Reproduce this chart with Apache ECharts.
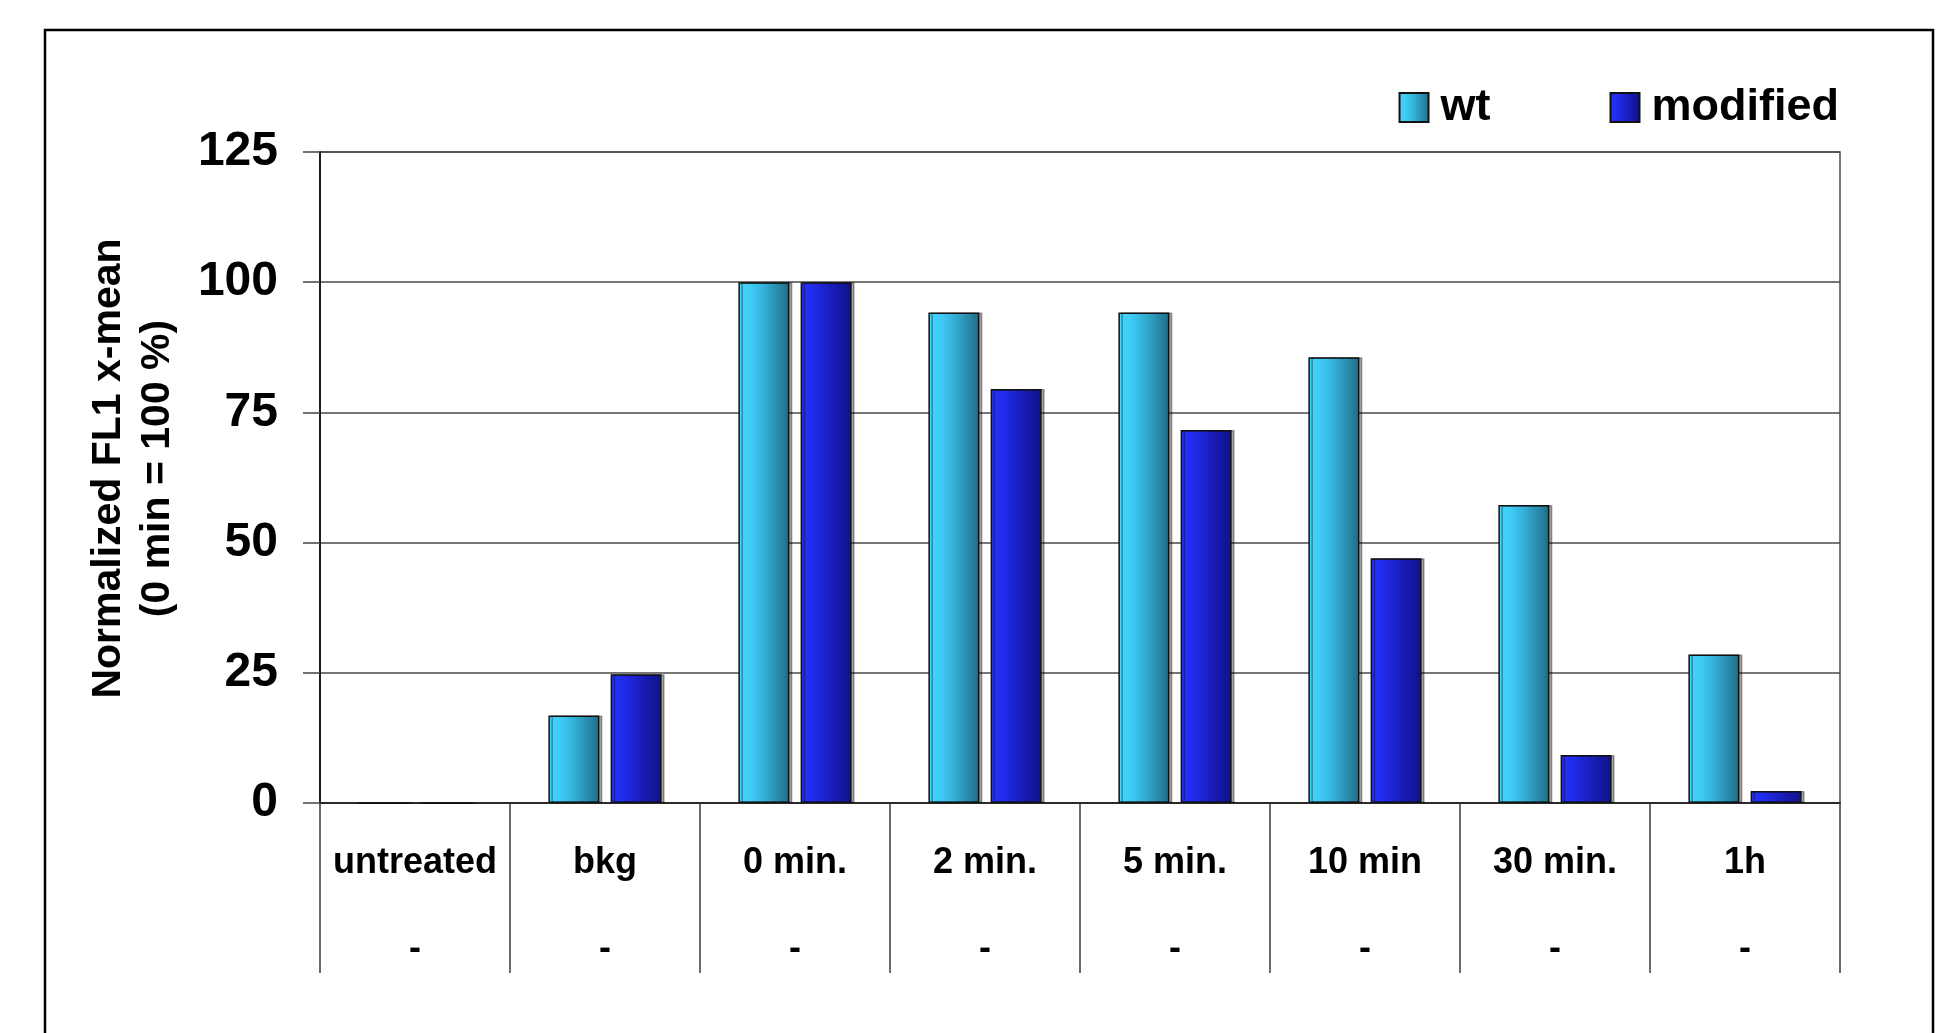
<!DOCTYPE html>
<html>
<head>
<meta charset="utf-8">
<title>Normalized FL1 x-mean</title>
<script src="https://cdn.jsdelivr.net/npm/echarts@6/dist/echarts.min.js"></script>
<style>
  html, body { margin: 0; padding: 0; background: #ffffff; }
  #chart { width: 1938px; height: 1033px; }
</style>
</head>
<body>
<div id="chart"></div>
<script>
// Time points (first row of the category table) and treatment row
const categories = ['untreated', 'bkg', '0 min.', '2 min.', '5 min.', '10 min', '30 min.', '1h'];
const treatmentRow = ['-', '-', '-', '-', '-', '-', '-', '-'];

// Normalized FL1 x-mean, 0 min = 100 %
const wtValues = [0, 16.8, 100, 94.2, 94.2, 85.6, 57.2, 28.5];
const modifiedValues = [0, 24.7, 100, 79.5, 71.6, 47.0, 9.2, 2.3];

const seriesNames = ['wt', 'modified'];
const yTicks = { min: 0, max: 125, step: 25 };

const sansBold = "'Liberation Sans', Arial, Helvetica, sans-serif";

function shade(stops) {
  return {
    type: 'linear', x: 0, y: 0, x2: 1, y2: 0,
    colorStops: stops.map(function (c, i) { return { offset: i / (stops.length - 1), color: c }; })
  };
}

const wtFill = shade(['#43d6ff', '#3ecaf4', '#35b0d8', '#2a8eb0', '#1e6b85']);
const modFill = shade(['#2434ff', '#212bea', '#1b22c8', '#1519a6', '#10138a']);

const barStyle = function (fill) {
  return {
    color: fill,
    borderColor: '#111111',
    borderWidth: 1.5,
    shadowColor: 'rgba(0,0,0,0.35)',
    shadowOffsetX: 3,
    shadowOffsetY: 0,
    shadowBlur: 0
  };
};

const chart = echarts.init(document.getElementById('chart'), null, { renderer: 'canvas' });

chart.setOption({
  animation: false,
  backgroundColor: '#ffffff',
  graphic: [{
    type: 'rect',
    shape: { x: 45, y: 30, width: 1888, height: 1100 },
    style: { fill: 'none', stroke: '#000000', lineWidth: 2.5 },
    silent: true
  }],
  legend: {
    data: seriesNames,
    right: 94,
    top: 80,
    itemWidth: 29,
    itemHeight: 29,
    itemGap: 119,
    icon: 'rect',
    textStyle: {
      fontFamily: sansBold,
      fontWeight: 'bold',
      fontSize: 45,
      color: '#000000',
      padding: [0, 0, 0, 7]
    }
  },
  grid: {
    left: 320,
    right: 98,
    top: 152,
    bottom: 230,
    show: true,
    borderColor: '#4a4a4a',
    borderWidth: 1.5,
    backgroundColor: 'transparent'
  },
  xAxis: {
    type: 'category',
    data: categories,
    boundaryGap: true,
    axisLine: { show: true, lineStyle: { color: '#2a2a2a', width: 2 } },
    axisTick: {
      show: true,
      interval: 0,
      length: 170,
      lineStyle: { color: '#3a3a3a', width: 1.5 }
    },
    axisLabel: {
      interval: 0,
      margin: 17,
      fontFamily: sansBold,
      fontWeight: 'bold',
      fontSize: 36,
      lineHeight: 86,
      color: '#000000',
      formatter: function (value, idx) {
        return value + '\n' + treatmentRow[idx];
      }
    },
    splitLine: { show: false }
  },
  yAxis: {
    type: 'value',
    min: yTicks.min,
    max: yTicks.max,
    interval: yTicks.step,
    name: 'Normalized FL1 x-mean\n(0 min = 100 %)',
    nameLocation: 'middle',
    nameRotate: 90,
    nameGap: 138,
    nameTextStyle: {
      fontFamily: sansBold,
      fontWeight: 'bold',
      fontSize: 41,
      lineHeight: 49,
      color: '#000000',
      padding: [0, 0, 0, 18]
    },
    axisLine: { show: true, lineStyle: { color: '#000000', width: 1.5 } },
    axisTick: { show: true, length: 17, lineStyle: { color: '#444444', width: 1.5 } },
    axisLabel: {
      margin: 42,
      fontFamily: sansBold,
      fontWeight: 'bold',
      fontSize: 48,
      color: '#000000'
    },
    splitLine: { show: true, lineStyle: { color: '#4a4a4a', width: 1.5 } }
  },
  series: [
    {
      name: seriesNames[0],
      type: 'bar',
      data: wtValues,
      barWidth: 51,
      barGap: '22%',
      itemStyle: barStyle(wtFill)
    },
    {
      name: seriesNames[1],
      type: 'bar',
      data: modifiedValues,
      barWidth: 51,
      barGap: '22%',
      itemStyle: barStyle(modFill)
    }
  ]
});
</script>
</body>
</html>
